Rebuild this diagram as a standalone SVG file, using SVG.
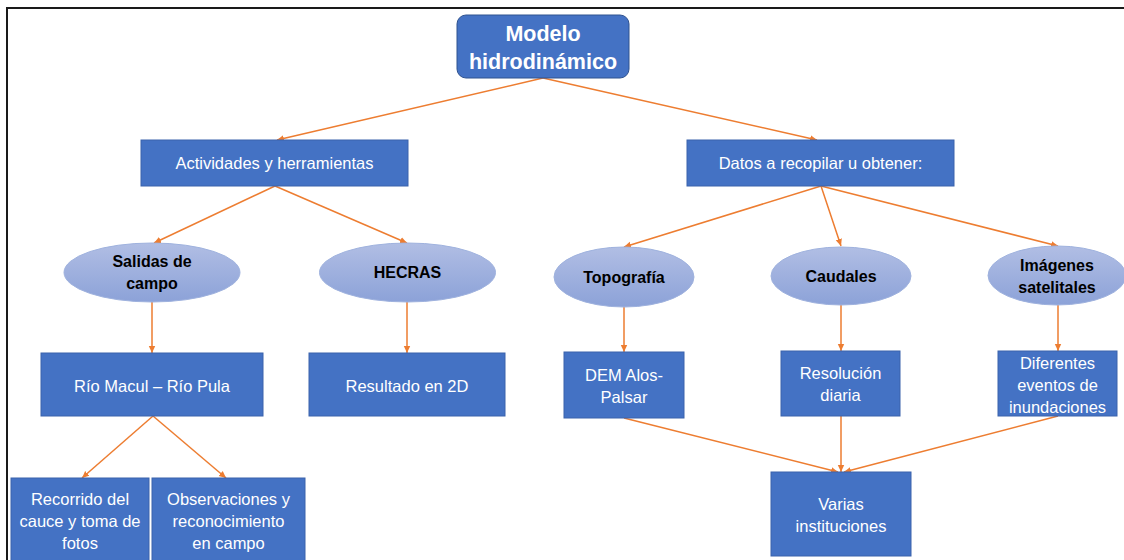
<svg xmlns="http://www.w3.org/2000/svg" width="1124" height="560" viewBox="0 0 1124 560">
<style>
.box{fill:#4472C4;stroke:#3A63AC;stroke-width:1}
.ell{fill:url(#eg);stroke:#9FB2DE;stroke-width:1}
.t{font-family:"Liberation Sans",Arial,sans-serif;font-size:16.5px;fill:#ffffff;text-anchor:middle}
.b{font-family:"Liberation Sans",Arial,sans-serif;font-size:16px;font-weight:bold;fill:#000000;text-anchor:middle}
.h{font-family:"Liberation Sans",Arial,sans-serif;font-size:21.5px;font-weight:bold;fill:#ffffff;text-anchor:middle}
.c{stroke:#ED7D31;stroke-width:1.5;fill:none;marker-end:url(#ah)}
</style>
<defs>
<linearGradient id="eg" x1="0" y1="0" x2="0" y2="1">
<stop offset="0" stop-color="#B1BEE4"/>
<stop offset="1" stop-color="#8CA2D8"/>
</linearGradient>
<marker id="ah" markerWidth="8" markerHeight="8" refX="7" refY="4" orient="auto" markerUnits="userSpaceOnUse">
<path d="M0,0.8 L7,4 L0,7.2 Z" fill="#ED7D31"/>
</marker>
</defs>
<rect x="0" y="0" width="1124" height="560" fill="#ffffff"/>
<rect x="7" y="8" width="1140" height="600" fill="none" stroke="#1a1a1a" stroke-width="2"/>
<g id="connectors">
<line class="c" x1="543" y1="78" x2="277" y2="140"/>
<line class="c" x1="543" y1="78" x2="817" y2="140"/>
<line class="c" x1="275" y1="186" x2="154" y2="243"/>
<line class="c" x1="275" y1="186" x2="407" y2="243"/>
<line class="c" x1="821" y1="186" x2="624" y2="247"/>
<line class="c" x1="821" y1="186" x2="841" y2="246"/>
<line class="c" x1="821" y1="186" x2="1058" y2="246"/>
<line class="c" x1="152" y1="302" x2="152" y2="353"/>
<line class="c" x1="407" y1="302" x2="407" y2="353"/>
<line class="c" x1="624" y1="307" x2="624" y2="352"/>
<line class="c" x1="841" y1="305" x2="841" y2="351"/>
<line class="c" x1="1058" y1="305" x2="1058" y2="351"/>
<line class="c" x1="153" y1="416" x2="82" y2="478"/>
<line class="c" x1="153" y1="416" x2="226" y2="478"/>
<line class="c" x1="624" y1="418" x2="838" y2="472"/>
<line class="c" x1="841" y1="416" x2="841" y2="472"/>
<line class="c" x1="1058" y1="416" x2="844" y2="472"/>
</g>
<g id="modelo">
<rect x="457" y="15" width="172" height="63" rx="9" ry="9" fill="#4472C4" stroke="#2F528F" stroke-width="1"/>
<text class="h" x="543" y="41">Modelo</text>
<text class="h" x="543" y="69">hidrodinámico</text>
</g>
<g id="actividades">
<rect class="box" x="141" y="140" width="267" height="46"/>
<text class="t" x="274.5" y="169">Actividades y herramientas</text>
</g>
<g id="datos">
<rect class="box" x="687" y="140" width="267" height="46"/>
<text class="t" x="820.5" y="169">Datos a recopilar u obtener:</text>
</g>
<g id="salidas">
<ellipse class="ell" cx="152" cy="272.5" rx="88" ry="29.5"/>
<text class="b" x="152" y="267">Salidas de</text>
<text class="b" x="152" y="289">campo</text>
</g>
<g id="hecras">
<ellipse class="ell" cx="407.5" cy="272.5" rx="88" ry="29.5"/>
<text class="b" x="407.5" y="278">HECRAS</text>
</g>
<g id="topografia">
<ellipse class="ell" cx="624" cy="277" rx="70" ry="30"/>
<text class="b" x="624" y="283">Topografía</text>
</g>
<g id="caudales">
<ellipse class="ell" cx="841" cy="276" rx="70" ry="29"/>
<text class="b" x="841" y="282">Caudales</text>
</g>
<g id="imagenes">
<ellipse class="ell" cx="1057" cy="275.5" rx="69" ry="29.5"/>
<text class="b" x="1057" y="271">Imágenes</text>
<text class="b" x="1057" y="293">satelitales</text>
</g>
<g id="rio">
<rect class="box" x="41" y="353" width="222" height="63"/>
<text class="t" x="152" y="392">Río Macul – Río Pula</text>
</g>
<g id="resultado">
<rect class="box" x="309" y="353" width="196" height="63"/>
<text class="t" x="407" y="392">Resultado en 2D</text>
</g>
<g id="dem">
<rect class="box" x="564" y="352" width="120" height="66"/>
<text class="t" x="624" y="381">DEM Alos-</text>
<text class="t" x="624" y="403">Palsar</text>
</g>
<g id="resolucion">
<rect class="box" x="781" y="351" width="119" height="65"/>
<text class="t" x="840.5" y="379">Resolución</text>
<text class="t" x="840.5" y="401">diaria</text>
</g>
<g id="diferentes">
<rect class="box" x="998" y="351" width="119" height="65"/>
<text class="t" x="1057.5" y="369">Diferentes</text>
<text class="t" x="1057.5" y="391">eventos de</text>
<text class="t" x="1057.5" y="413">inundaciones</text>
</g>
<g id="recorrido">
<rect class="box" x="11" y="478" width="138" height="90"/>
<text class="t" x="80" y="505">Recorrido del</text>
<text class="t" x="80" y="527">cauce y toma de</text>
<text class="t" x="80" y="549">fotos</text>
</g>
<g id="observaciones">
<rect class="box" x="152" y="478" width="153" height="90"/>
<text class="t" x="228.5" y="505">Observaciones y</text>
<text class="t" x="228.5" y="527">reconocimiento</text>
<text class="t" x="228.5" y="549">en campo</text>
</g>
<g id="varias">
<rect class="box" x="771" y="472" width="140" height="84"/>
<text class="t" x="841" y="510">Varias</text>
<text class="t" x="841" y="532">instituciones</text>
</g>
</svg>
